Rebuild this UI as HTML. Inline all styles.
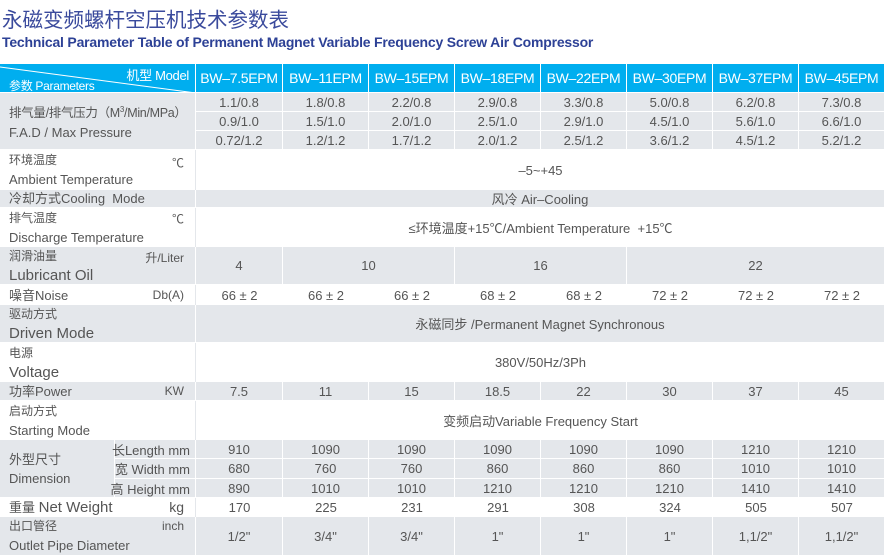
<!DOCTYPE html>
<html><head><meta charset="utf-8"><style>
*{margin:0;padding:0;box-sizing:border-box}
body{width:887px;height:556px;background:#fff;position:relative;overflow:hidden;font-family:"Liberation Sans","Noto Sans CJK SC",sans-serif;color:#555}
.r{position:absolute;left:0;width:885px;display:flex}
.r>div{flex-shrink:0;white-space:nowrap;border-right:1px solid #fff;border-bottom:1px solid #fff;display:flex;align-items:center;justify-content:center;font-size:13px;position:relative}
.g>div{background:#e4e7eb}
.w>div{background:#fff;border-right:none;border-bottom:none}
.w>div:first-child{border-right:1px solid #e4e7eb}
.c0{width:196px}
.c1{width:87px}.c{width:86px}
.s2{width:172px}.s3{width:258px}.s8{width:689px}
.lab{justify-content:flex-start!important;padding-left:9px;flex-direction:column;align-items:flex-start!important}
.lab span{display:block;line-height:19px}
.u{position:absolute;right:11px;top:2px;font-size:12px}
.h>div{background:#00aeef;color:#fff;font-size:14px;letter-spacing:-0.3px}
.zh{font-size:12px}
.big{font-size:15px}
</style></head><body>
<div style="position:absolute;left:2px;top:3px;font-size:20.5px;color:#3a4a9c;font-family:'Noto Sans CJK SC',sans-serif">永磁变频螺杆空压机技术参数表</div>
<div style="position:absolute;left:2px;top:34px;font-size:14px;color:#2d4196;font-weight:bold;letter-spacing:-0.2px">Technical Parameter Table of Permanent Magnet Variable Frequency Screw Air Compressor</div>

<div class="r h" style="top:64px;height:29px">
<div class="c0" style="display:block"><svg width="196" height="29" style="position:absolute;left:0;top:0"><line x1="0" y1="3" x2="196" y2="29" stroke="#fff" stroke-width="1"/></svg><span style="position:absolute;right:6px;top:1px;font-size:13px">机型 Model</span><span style="position:absolute;left:9px;top:13px;font-size:12px">参数 Parameters</span></div>
<div class="c1">BW–7.5EPM</div><div class="c">BW–11EPM</div><div class="c">BW–15EPM</div><div class="c">BW–18EPM</div><div class="c">BW–22EPM</div><div class="c">BW–30EPM</div><div class="c">BW–37EPM</div><div class="c">BW–45EPM</div>
</div>

<div class="r g" style="top:93px;height:57px">
<div class="c0 lab" style="justify-content:center!important"><span style="font-size:12.5px;letter-spacing:-0.3px">排气量/排气压力（M<sup style="font-size:8px">3</sup>/Min/MPa）</span><span style="font-size:13px">F.A.D / Max Pressure</span></div>
<div style="width:689px;display:block;border:none">
<div class="r g" style="position:relative;width:689px;height:19px"><div class="c1">1.1/0.8</div><div class="c">1.8/0.8</div><div class="c">2.2/0.8</div><div class="c">2.9/0.8</div><div class="c">3.3/0.8</div><div class="c">5.0/0.8</div><div class="c">6.2/0.8</div><div class="c">7.3/0.8</div></div>
<div class="r g" style="position:relative;width:689px;height:19px"><div class="c1">0.9/1.0</div><div class="c">1.5/1.0</div><div class="c">2.0/1.0</div><div class="c">2.5/1.0</div><div class="c">2.9/1.0</div><div class="c">4.5/1.0</div><div class="c">5.6/1.0</div><div class="c">6.6/1.0</div></div>
<div class="r g" style="position:relative;width:689px;height:19px"><div class="c1">0.72/1.2</div><div class="c">1.2/1.2</div><div class="c">1.7/1.2</div><div class="c">2.0/1.2</div><div class="c">2.5/1.2</div><div class="c">3.6/1.2</div><div class="c">4.5/1.2</div><div class="c">5.2/1.2</div></div>
</div></div>

<div class="r w" style="top:150px;height:40px"><div class="c0 lab" style="justify-content:center!important"><span class="zh">环境温度</span><span>Ambient Temperature</span><b class="u" style="font-weight:normal;top:4px">℃</b></div><div class="s8">–5~+45</div></div>

<div class="r g" style="top:190px;height:18px"><div class="c0 lab" style="justify-content:center!important"><span>冷却方式Cooling&nbsp; Mode</span></div><div class="s8">风冷 Air–Cooling</div></div>

<div class="r w" style="top:208px;height:39px"><div class="c0 lab" style="justify-content:center!important"><span class="zh">排气温度</span><span>Discharge Temperature</span><b class="u" style="font-weight:normal;top:2px">℃</b></div><div class="s8">≤环境温度+15℃/Ambient Temperature&nbsp; +15℃</div></div>

<div class="r g" style="top:247px;height:38px"><div class="c0 lab" style="justify-content:center!important"><span class="zh">润滑油量</span><span class="big">Lubricant Oil</span><b class="u" style="font-weight:normal">升/Liter</b></div><div class="c1">4</div><div class="s2">10</div><div class="s2">16</div><div class="s3">22</div></div>

<div class="r w" style="top:285px;height:20px"><div class="c0 lab" style="justify-content:center!important"><span>噪音Noise</span><b class="u" style="font-weight:normal;top:3px">Db(A)</b></div><div class="c1">66 ± 2</div><div class="c">66 ± 2</div><div class="c">66 ± 2</div><div class="c">68 ± 2</div><div class="c">68 ± 2</div><div class="c">72 ± 2</div><div class="c">72 ± 2</div><div class="c">72 ± 2</div></div>

<div class="r g" style="top:305px;height:38px"><div class="c0 lab" style="justify-content:center!important"><span class="zh">驱动方式</span><span class="big">Driven Mode</span></div><div class="s8">永磁同步 /Permanent Magnet Synchronous</div></div>

<div class="r w" style="top:343px;height:39px"><div class="c0 lab" style="justify-content:center!important"><span class="zh">电源</span><span class="big">Voltage</span></div><div class="s8">380V/50Hz/3Ph</div></div>

<div class="r g" style="top:382px;height:19px"><div class="c0 lab" style="justify-content:center!important"><span>功率Power</span><b class="u" style="font-weight:normal;top:2px">KW</b></div><div class="c1">7.5</div><div class="c">11</div><div class="c">15</div><div class="c">18.5</div><div class="c">22</div><div class="c">30</div><div class="c">37</div><div class="c">45</div></div>

<div class="r w" style="top:401px;height:39px"><div class="c0 lab" style="justify-content:center!important"><span class="zh">启动方式</span><span>Starting Mode</span></div><div class="s8">变频启动Variable Frequency Start</div></div>

<div class="r g" style="top:440px;height:58px"><div style="width:115px;justify-content:center;padding-left:9px;flex-direction:column;align-items:flex-start"><span style="line-height:19px">外型尺寸</span><span style="line-height:19px">Dimension</span></div>
<div style="width:770px;display:block;border:none">
<div class="r g" style="position:relative;width:770px;height:19px"><div style="width:81px;justify-content:flex-end;padding-right:5px">长Length mm</div><div class="c1">910</div><div class="c">1090</div><div class="c">1090</div><div class="c">1090</div><div class="c">1090</div><div class="c">1090</div><div class="c">1210</div><div class="c">1210</div></div>
<div class="r g" style="position:relative;width:770px;height:20px"><div style="width:81px;justify-content:flex-end;padding-right:5px">宽 Width mm</div><div class="c1">680</div><div class="c">760</div><div class="c">760</div><div class="c">860</div><div class="c">860</div><div class="c">860</div><div class="c">1010</div><div class="c">1010</div></div>
<div class="r g" style="position:relative;width:770px;height:19px"><div style="width:81px;justify-content:flex-end;padding-right:5px">高 Height mm</div><div class="c1">890</div><div class="c">1010</div><div class="c">1010</div><div class="c">1210</div><div class="c">1210</div><div class="c">1210</div><div class="c">1410</div><div class="c">1410</div></div>
</div></div>

<div class="r w" style="top:498px;height:19px"><div class="c0 lab" style="justify-content:center!important"><span>重量 <span style="display:inline;font-size:15px">Net Weight</span></span><b class="u" style="font-weight:normal;top:1px;font-size:14px">kg</b></div><div class="c1">170</div><div class="c">225</div><div class="c">231</div><div class="c">291</div><div class="c">308</div><div class="c">324</div><div class="c">505</div><div class="c">507</div></div>

<div class="r g" style="top:517px;height:39px"><div class="c0 lab" style="justify-content:center!important"><span class="zh">出口管径</span><span>Outlet Pipe Diameter</span><b class="u" style="font-weight:normal;top:2px">inch</b></div><div class="c1">1/2"</div><div class="c">3/4"</div><div class="c">3/4"</div><div class="c">1"</div><div class="c">1"</div><div class="c">1"</div><div class="c">1,1/2"</div><div class="c">1,1/2"</div></div>
</body></html>
